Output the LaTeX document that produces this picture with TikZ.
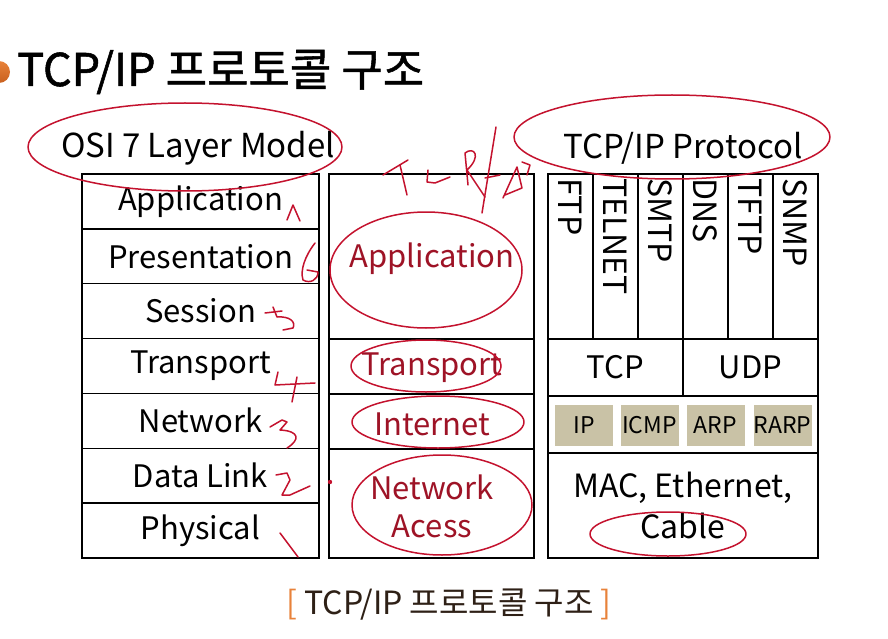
\documentclass[tikz,border=0pt]{standalone}
\usepackage{fontspec}
\setmainfont{Noto Sans CJK KR}
\newfontfamily\titlefont[FakeBold=1.2]{Noto Sans CJK KR}
\definecolor{annred}{HTML}{C4122E}
\definecolor{txtred}{HTML}{9E1326}
\definecolor{beige}{HTML}{C9C2A6}
\definecolor{orng}{HTML}{E8823A}
\definecolor{orngd}{HTML}{C9601E}
\definecolor{capt}{HTML}{2E2016}
\begin{document}
\begin{tikzpicture}[x=1pt,y=-1pt,
  cell/.style={draw=black, line width=1.5pt, inner sep=0pt, font=\fontsize{31}{34}\selectfont},
  midtxt/.style={text=txtred, font=\fontsize{31}{38}\selectfont, align=center},
  proto/.style={rotate=-90, anchor=west, inner sep=0pt, font=\fontsize{32}{34}\selectfont},
  chip/.style={fill=beige, inner sep=0pt, minimum width=58pt, minimum height=41pt, font=\fontsize{23}{26}\selectfont},
  ann/.style={draw=annred, line width=1.5pt, line cap=round, line join=round},
  hdr/.style={font=\fontsize{33}{36}\selectfont, inner sep=0pt}]
\useasboundingbox (0,0) rectangle (888,639);
\fill[white] (0,0) rectangle (888,639);

% title
\shade[top color=orng, bottom color=orngd] (-1,72) circle (11);
\node[anchor=west, inner sep=0pt, font=\fontsize{45}{50}\titlefont] (title) at (17,72) {TCP/IP 프로토콜 구조};

% headers
\node[hdr] (osi) at (198,148) {OSI 7 Layer Model};
\node[hdr] (tcpip) at (683,148) {TCP/IP Protocol};

% left column
\foreach \n/\t [count=\i from 0] in {l7/Application,l6/Presentation,l5/Session,l4/Transport,l3/Network,l2/Data Link,l1/Physical}{
  \node[cell, minimum width=237pt, minimum height=54.86pt] (\n) at (200.5,{201.43+54.857*\i}) {\t};
}

% middle column
\node[cell, minimum width=205pt, minimum height=165pt] (mapp) at (431.5,256.5) {};
\node[cell, minimum width=205pt, minimum height=55pt] (mtr) at (431.5,366.5) {};
\node[cell, minimum width=205pt, minimum height=55pt] (mint) at (431.5,421.5) {};
\node[cell, minimum width=205pt, minimum height=109pt] (mna) at (431.5,503.5) {};
\node[midtxt] (tmapp) at (432,259) {Application};
\node[midtxt] (tmtr) at (432,368) {Transport};
\node[midtxt] (tmint) at (432,424) {Internet};
\node[midtxt] (tmna) at (432,506) {Network\\Acess};

% right column
\foreach \n/\t [count=\i from 0] in {pftp/FTP,ptel/TELNET,psmtp/SMTP,pdns/DNS,ptftp/TFTP,psnmp/SNMP}{
  \node[cell, minimum width=45pt, minimum height=165pt] (\n) at ({570.5+45*\i},256.5) {};
  \node[proto] (t\n) at ({570.5+45*\i},178) {\t};
}
\node[cell, minimum width=135pt, minimum height=57pt] (tcp) at (615.5,367.5) {TCP};
\node[cell, minimum width=135pt, minimum height=57pt] (udp) at (750.5,367.5) {UDP};
\node[cell, minimum width=270pt, minimum height=57pt] (iprow) at (683,424.5) {};
\node[chip] (ip) at (584,425.5) {IP};
\node[chip] (icmp) at (649.5,425.5) {ICMP};
\node[chip] (arp) at (715.5,425.5) {ARP};
\node[chip] (rarp) at (782.5,425.5) {RARP};
\node[cell, minimum width=270pt, minimum height=105pt, align=center, font=\fontsize{32}{41}\selectfont] (mac) at (683,505.5) {MAC, Ethernet,\\Cable};

% caption
\node[inner sep=0pt, font=\fontsize{32}{35}\selectfont, text=capt] (cap) at (449,605) {{\color{orng}[}\ TCP/IP 프로토콜 구조\ {\color{orng}]}};

% red annotations: ellipses
\draw[ann] (185,147) ellipse [x radius=157, y radius=44];
\draw[ann] (672,137) ellipse [x radius=158, y radius=42];
\draw[ann] (426,270) ellipse [x radius=96, y radius=58];
\draw[ann] (426,366) ellipse [x radius=75, y radius=26];
\draw[ann] (438,422) ellipse [x radius=86, y radius=26];
\draw[ann] (442,505) ellipse [x radius=90, y radius=50];
\draw[ann] (668,534) ellipse [x radius=78, y radius=22];

% handwritten TCP/IP
\draw[ann] (383,175) -- (408,160);
\draw[ann] (400,165) -- (407,195);
\draw[ann] (428,170) -- (427,182) -- (435,183) -- (450,177);
\draw[ann] (468,185) -- (465,153) .. controls (474,146) and (482,156) .. (467,170) -- (485,197);
\draw[ann] (496,127) -- (482,213);
\draw[ann] (485,178) -- (500,175);
\draw[ann] (503,198) -- (517,167) -- (522,188) -- (505,195);
\draw[ann] (522,162) -- (530,165) -- (527,175);

% handwritten layer numbers
\draw[ann] (287,220) -- (293,205) -- (300,221);
\draw[ann] (315,243) .. controls (305,256) and (300,270) .. (303,280) .. controls (310,284) and (318,280) .. (318,272) -- (307,270);
\draw[ann] (265,313) -- (282,311);
\draw[ann] (273,307) -- (277,317) .. controls (290,316) and (296,322) .. (293,328) -- (283,330);
\draw[ann] (278,372) -- (275,385) -- (315,383);
\draw[ann] (297,377) -- (292,402);
\draw[ann] (270,427) -- (282,420) -- (287,422) -- (280,430) .. controls (300,431) and (300,440) .. (287,448);
\draw[ann] (276,475) -- (287,473) -- (290,480) -- (282,495) -- (290,495) -- (310,486);
\fill[annred] (330,482) circle (2.2);
\draw[ann] (280,533) -- (298,557);

\end{tikzpicture}
\end{document}
